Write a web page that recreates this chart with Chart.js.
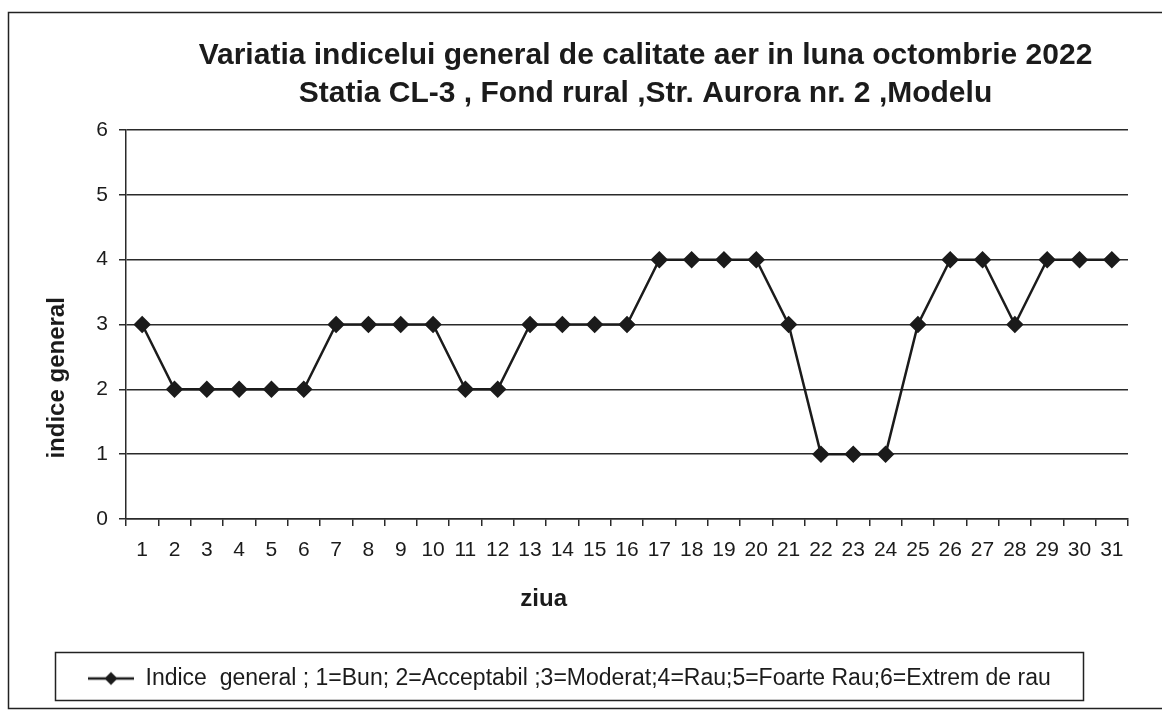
<!DOCTYPE html>
<html>
<head>
<meta charset="utf-8">
<script src="https://cdn.jsdelivr.net/npm/chart.js@4.4.1/dist/chart.umd.min.js"></script>
<style>
  html, body { margin: 0; padding: 0; background: #fff; }
  canvas { display: block; }
</style>
</head>
<body>
<canvas id="aqiChart" width="1162" height="711"></canvas>
<script>
// Data
const days = ['1','2','3','4','5','6','7','8','9','10','11','12','13','14','15','16',
              '17','18','19','20','21','22','23','24','25','26','27','28','29','30','31'];
const indiceGeneral = [3,2,2,2,2,2,3,3,3,3,2,2,3,3,3,3,4,4,4,4,3,1,1,1,3,4,4,3,4,4,4];
const yTicks = [0, 1, 2, 3, 4, 5, 6];

const titleLines = [
    'Variatia indicelui general de calitate aer in luna octombrie 2022',
    'Statia CL-3 , Fond rural ,Str. Aurora nr. 2 ,Modelu'
];
const legendText = 'Indice  general ; 1=Bun; 2=Acceptabil ;3=Moderat;4=Rau;5=Foarte Rau;6=Extrem de rau';
// axis titles are not centred on the plot in the original, trailing spaces push them over
const xTitle = 'ziua' + ' '.repeat(25);
const yTitle = 'indice general' + ' '.repeat(16);

const ink = '#1b1b1b';
const gridInk = '#2a2a2a';
const fontFamily = '"Liberation Sans", Arial, sans-serif';

// legend marker: line with a diamond in the middle
function makeMarker() {
    const c = document.createElement('canvas');
    c.width = 46; c.height = 16;
    const g = c.getContext('2d');
    g.strokeStyle = ink; g.lineWidth = 2.5;
    g.beginPath(); g.moveTo(0, 8); g.lineTo(46, 8); g.stroke();
    g.fillStyle = ink;
    g.beginPath(); g.moveTo(23, 1.5); g.lineTo(29.5, 8); g.lineTo(23, 14.5); g.lineTo(16.5, 8); g.closePath(); g.fill();
    return c;
}
const marker = makeMarker();

// shift title / legend horizontally like in the original sheet, draw frames
const framePlugin = {
    id: 'framePlugin',
    afterLayout(chart) {
        const t = chart.titleBlock;
        if (t) { t.left = 150; t.right = 1141; }
        const l = chart.legend;
        if (l) { l.left = 78; l.right = 1162; }
    },
    beforeDraw(chart) {
        const ctx = chart.ctx;
        ctx.save();
        ctx.fillStyle = '#fff';
        ctx.fillRect(0, 0, chart.width, chart.height);
        ctx.strokeStyle = '#222';
        ctx.lineWidth = 1.5;
        ctx.beginPath();
        ctx.moveTo(1162, 12.5);
        ctx.lineTo(8.5, 12.5);
        ctx.lineTo(8.5, 708.5);
        ctx.lineTo(1162, 708.5);
        ctx.stroke();
        // legend box
        ctx.strokeRect(55.5, 652.5, 1028, 48);
        ctx.restore();
    }
};

new Chart(document.getElementById('aqiChart'), {
    type: 'line',
    data: {
        labels: days,
        datasets: [{
            label: legendText,
            data: indiceGeneral,
            borderColor: ink,
            backgroundColor: ink,
            borderWidth: 2.5,
            pointStyle: 'rectRot',
            pointRadius: 7,
            pointHoverRadius: 7,
            pointBackgroundColor: ink,
            pointBorderColor: ink,
            tension: 0
        }]
    },
    options: {
        responsive: false,
        animation: false,
        devicePixelRatio: 1,
        layout: { padding: { left: 20, right: 34, top: 0, bottom: 11 } },
        plugins: {
            title: {
                display: true,
                text: titleLines,
                color: ink,
                font: { family: fontFamily, size: 30, weight: 'bold', lineHeight: 1.267 },
                padding: { top: 37, bottom: 17 }
            },
            legend: {
                display: true,
                position: 'bottom',
                align: 'start',
                labels: {
                    color: ink,
                    font: { family: fontFamily, size: 23 },
                    usePointStyle: true,
                    pointStyle: marker,
                    pointStyleWidth: 46,
                    padding: 10
                }
            },
            tooltip: { enabled: false }
        },
        scales: {
            x: {
                offset: true,
                afterFit(scale) { scale.height = 138; },
                grid: {
                    offset: true,
                    drawOnChartArea: false,
                    drawTicks: true,
                    tickLength: 7,
                    color: gridInk,
                    lineWidth: 1.5
                },
                border: { display: true, color: gridInk, width: 1.5 },
                ticks: {
                    color: ink,
                    font: { family: fontFamily, size: 21 },
                    padding: 12,
                    maxRotation: 0,
                    autoSkip: false
                },
                title: {
                    display: true,
                    text: xTitle,
                    color: ink,
                    font: { family: fontFamily, size: 24, weight: 'bold' },
                    padding: { top: 0, bottom: 43 }
                }
            },
            y: {
                min: 0,
                max: 6,
                afterBuildTicks(scale) {
                    scale.ticks = yTicks.map(v => ({ value: v }));
                },
                afterFit(scale) { scale.width = 106; },
                grid: {
                    color: gridInk,
                    lineWidth: 1.5,
                    drawTicks: true,
                    tickLength: 7
                },
                border: { display: true, color: gridInk, width: 1.5 },
                ticks: {
                    color: ink,
                    font: { family: fontFamily, size: 21 },
                    padding: 11
                },
                title: {
                    display: true,
                    text: yTitle,
                    color: ink,
                    font: { family: fontFamily, size: 24, weight: 'bold' },
                    padding: { top: 23, bottom: 0 }
                }
            }
        }
    },
    plugins: [framePlugin]
});
</script>
</body>
</html>
